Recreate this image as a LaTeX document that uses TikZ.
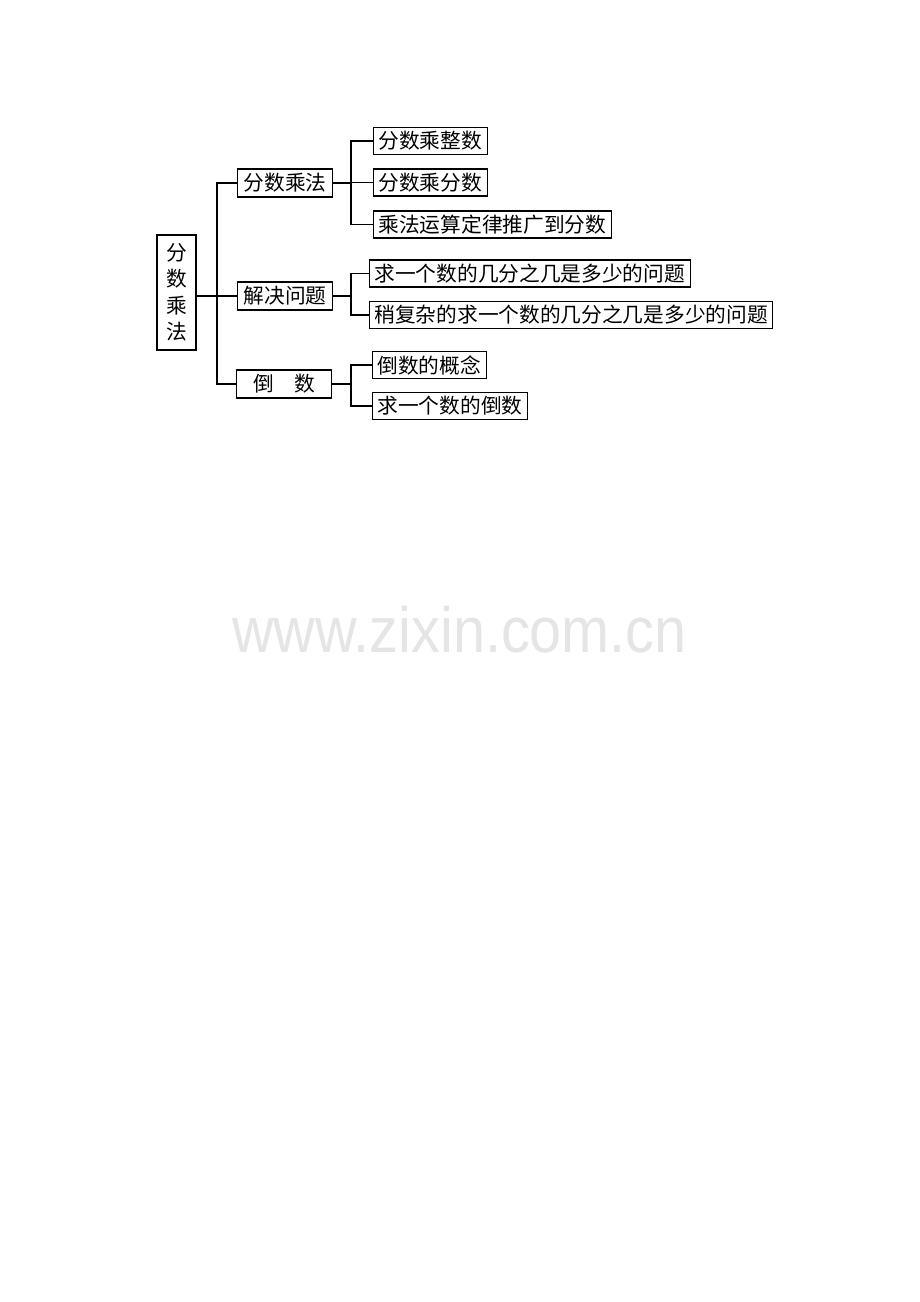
\documentclass[tikz,border=0pt]{standalone}
\usepackage{fontspec}
\usepackage{tikz}
\usetikzlibrary{positioning, calc}
\newfontfamily\cjk{Noto Sans CJK SC}
\newfontfamily\wmfont{Liberation Sans}
\tikzset{
    rootbox/.style={
        draw, line width=1.1pt, align=center, inner sep=0pt,
        minimum width=39pt, minimum height=115pt
    },
    topicbox/.style={
        draw, line width=1.1pt, inner sep=0pt, anchor=west,
        minimum width=95pt, minimum height=28pt
    },
    itembox/.style={
        draw, line width=1.1pt, inner xsep=5pt, inner ysep=0pt, anchor=west,
        minimum height=27pt
    },
    branch/.style={
        line width=1.1pt
    }
}
\begin{document}
\begin{tikzpicture}[x=1pt, y=-1pt,
        font={\cjk\fontsize{20.7pt}{26.5pt}\selectfont}]
    \useasboundingbox[fill=white] (0,0) rectangle (920,1302);

    % watermark
    \node[text=black!10, font={\wmfont\fontsize{64pt}{64pt}\selectfont},
          xscale=0.9, transform shape, anchor=base] (mark) at (459.5,652) {www.zixin.com.cn};

    % root and topics
    \node[rootbox] (root) at (176.5,292.5) {分\\数\\乘\\法};
    \node[topicbox] (mul) at (237,183) {分数乘法};
    \node[topicbox] (solve) at (237,296) {解决问题};
    \node[topicbox] (recip) at (236,384) {倒\quad 数};

    % items
    \node[itembox] (mulint) at (373,141) {分数乘整数};
    \node[itembox] (mulfrac) at (373,182.5) {分数乘分数};
    \node[itembox] (mullaw) at (373,224.5) {乘法运算定律推广到分数};
    \node[itembox] (part) at (369,273.5) {求一个数的几分之几是多少的问题};
    \node[itembox] (partplus) at (369,315) {稍复杂的求一个数的几分之几是多少的问题};
    \node[itembox] (recdef) at (372,365) {倒数的概念};
    \node[itembox] (recfind) at (372,406) {求一个数的倒数};

    % branch lines
    \coordinate (trunk) at (217,0);
    \coordinate (bus) at (351,0);
    \draw[branch] (root.east |- solve.west) -- (solve.west);
    \draw[branch] (mul.west) -- (mul.west -| trunk) |- (recip.west);

    \draw[branch] (mul.east) -- (mul.east -| bus);
    \draw[branch] (mulint.west) -- (mulint.west -| bus) |- (mullaw.west);
    \draw[branch] (mulfrac.west) -- (mulfrac.west -| bus);

    \draw[branch] (solve.east) -- (solve.east -| bus);
    \draw[branch] (part.west) -- (part.west -| bus) |- (partplus.west);

    \draw[branch] (recip.east) -- (recip.east -| bus);
    \draw[branch] (recdef.west) -- (recdef.west -| bus) |- (recfind.west);
\end{tikzpicture}
\end{document}
